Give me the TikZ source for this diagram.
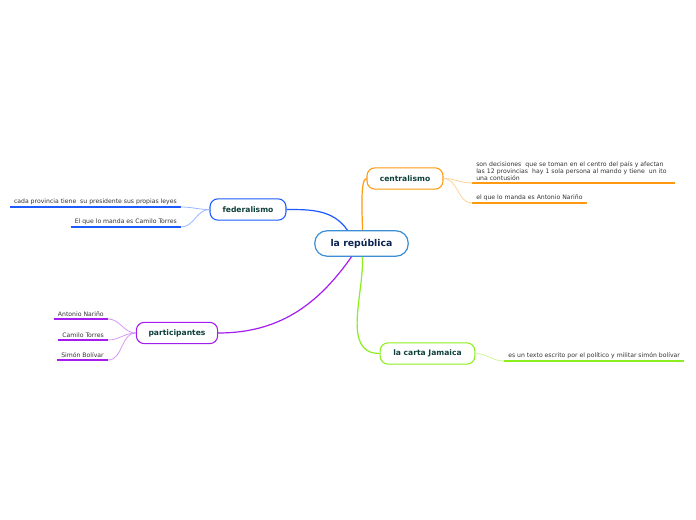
\documentclass[tikz,border=0pt]{standalone}
\usepackage{fontspec}
\setmainfont{DejaVu Sans}
\usetikzlibrary{positioning}
\definecolor{repblue}{HTML}{3C8FD6}
\definecolor{fedblue}{HTML}{1E5BFF}
\definecolor{cenorange}{HTML}{FF9A10}
\definecolor{parpurple}{HTML}{A41CF0}
\definecolor{jamgreen}{HTML}{8CEE1E}
\definecolor{topictext}{HTML}{0E3F3A}
\definecolor{roottext}{HTML}{0B2452}
\tikzset{
  % Base styles
  map base/.style={
    x=0.75pt, y=-0.75pt,
    every node/.style={font=\fontsize{4.6}{5.4}\selectfont, text=black!80},
  },
  % Root and topics
  root node/.style={rectangle, draw=repblue, line width=0.9pt, rounded corners=9pt, fill=white,
    minimum width=70pt, minimum height=19pt, inner sep=0pt,
    font=\fontsize{7}{8}\selectfont\bfseries, text=roottext},
  topic node/.style={rectangle, draw=#1, line width=0.8pt, rounded corners=6pt, fill=white,
    minimum width=57pt, minimum height=16pt, inner sep=0pt,
    font=\fontsize{5.7}{7}\selectfont\bfseries, text=topictext},
  % Leaves
  leaf node/.style={inner xsep=3pt, inner ysep=1.5pt, align=left},
  leaf line/.style={draw=#1, line width=1.3pt},
  % Connectors
  main link/.style={draw=#1, line width=0.9pt},
  leaf link/.style={draw=#1!45, line width=0.6pt},
}
\begin{document}
\begin{tikzpicture}[map base]
  \useasboundingbox (0,0) rectangle (696,520);
  \node[root node] (rep) at (361.5,243.5) {la república};
  \node[topic node=cenorange] (cen) at (405,178.5) {centralismo};
  \node[topic node=fedblue] (fed) at (248,209.5) {federalismo};
  \node[topic node=parpurple, minimum width=61pt] (par) at (177,333) {participantes};
  \node[topic node=jamgreen, minimum width=71pt] (jam) at (427.5,353.5) {la carta Jamaica};
  % centralismo
  \node[leaf node, anchor=south west, text width=146pt] (c1) at (472,183) {son decisiones\ \ que se toman en el centro del país y afectan\\ las 12 provincias\ \ hay 1 sola persona al mando y tiene\ \ un ito\\ una contusión};
  \node[leaf node, anchor=south west] (c2) at (472,203) {el que lo manda es Antonio Nariño};
  % federalismo
  \node[leaf node, anchor=south east] (f1) at (181,207) {cada provincia tiene\ \ su presidente sus propias leyes};
  \node[leaf node, anchor=south east] (f2) at (181,227) {El que lo manda es Camilo Torres};
  % participantes
  \node[leaf node, anchor=south east] (p1) at (108,319) {Antonio Nariño};
  \node[leaf node, anchor=south east] (p2) at (108,340) {Camilo Torres};
  \node[leaf node, anchor=south east] (p3) at (108,360) {Simón Bolívar};
  % la carta Jamaica
  \node[leaf node, anchor=south west] (j1) at (504,361) {es un texto escrito por el político y militar simón bolívar};
  % underlines
  \draw[leaf line=cenorange] (c1.south west) -- (c1.south east);
  \draw[leaf line=cenorange] (c2.south west) -- (c2.south east);
  \draw[leaf line=fedblue] (f1.south west) -- (f1.south east);
  \draw[leaf line=fedblue] (f2.south west) -- (f2.south east);
  \draw[leaf line=parpurple] (p1.south west) -- (p1.south east);
  \draw[leaf line=parpurple] (p2.south west) -- (p2.south east);
  \draw[leaf line=parpurple] (p3.south west) -- (p3.south east);
  \draw[leaf line=jamgreen] (j1.south west) -- (j1.south east);
  % main links
  \draw[main link=cenorange] ([xshift=0.75pt]rep.north) to[out=88,in=180,looseness=0.35] (cen.west);
  \draw[main link=fedblue] ([xshift=-10.5pt]rep.north) to[out=125,in=0] (fed.east);
  \draw[main link=parpurple] ([xshift=-7.5pt]rep.south) to[out=-125,in=0] (par.east);
  \draw[main link=jamgreen] ([xshift=0.75pt]rep.south) to[out=-88,in=180] (jam.west);
  % leaf links
  \draw[leaf link=cenorange] (cen.east) to[out=0,in=180] (c1.south west);
  \draw[leaf link=cenorange] (cen.east) to[out=0,in=180] (c2.south west);
  \draw[leaf link=fedblue] (fed.west) to[out=180,in=0] (f1.south east);
  \draw[leaf link=fedblue] (fed.west) to[out=180,in=0] (f2.south east);
  \draw[leaf link=parpurple] (par.west) to[out=180,in=0] (p1.south east);
  \draw[leaf link=parpurple] (par.west) to[out=180,in=0] (p2.south east);
  \draw[leaf link=parpurple] (par.west) to[out=180,in=0] (p3.south east);
  \draw[leaf link=jamgreen] (jam.east) to[out=0,in=180] (j1.south west);
\end{tikzpicture}
\end{document}
